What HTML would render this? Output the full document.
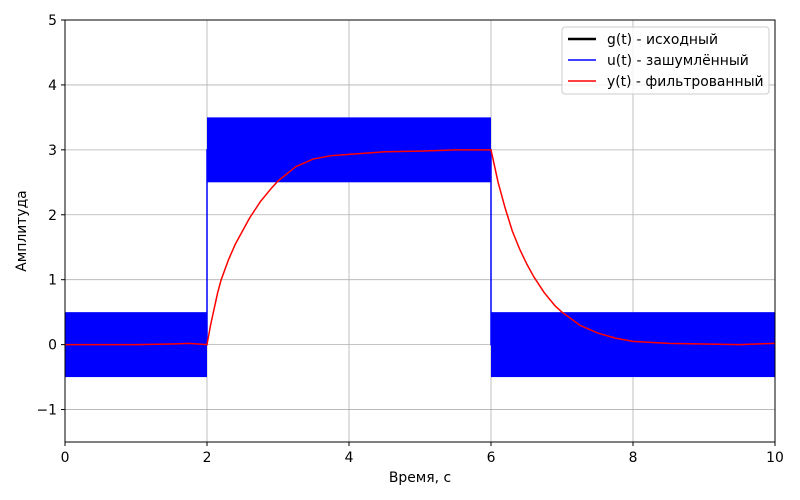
<!DOCTYPE html>
<html><head><meta charset="utf-8">
<style>
body{margin:0;background:#fff;}
svg{display:block;font-family:"DejaVu Sans","Liberation Sans",sans-serif;}
</style></head>
<body>
<svg id="chart" width="800" height="500" viewBox="0 0 800 500">
<rect width="800" height="500" fill="#fff"/>
<g id="grid"></g>
<g id="series"></g>
<rect x="65" y="20" width="710" height="422" fill="none" stroke="#000" stroke-width="1"/>
<g id="axes"></g>
<text x="420" y="482" font-size="13.9" text-anchor="middle">Время, с</text>
<text x="26" y="231" font-size="13.9" text-anchor="middle" transform="rotate(-90 26 231)">Амплитуда</text>
<g>
<rect x="562" y="27" width="207" height="67" rx="3" fill="#fff" fill-opacity="0.8" stroke="#ccc"/>
<line x1="568" y1="39" x2="596" y2="39" stroke="#000" stroke-width="2.5"/>
<text x="607" y="44" font-size="13.9">g(t) - исходный</text>
<line x1="568" y1="60" x2="596" y2="60" stroke="#0000ff" stroke-width="1.5"/>
<text x="607" y="65" font-size="13.9">u(t) - зашумлённый</text>
<line x1="568" y1="81" x2="596" y2="81" stroke="#ff0000" stroke-width="1.5"/>
<text x="607" y="86" font-size="13.9">y(t) - фильтрованный</text>
</g>
</svg>
<script>
const xTicks=[0,2,4,6,8,10];
const yTicks=[-1,0,1,2,3,4,5];
const yTickLabels=["\u22121","0","1","2","3","4","5"];
const segStarts=[0,2,6];
const segEnds=[2,6,10];
const segLevels=[0,3,0];
const noiseAmp=[0.5,0.5,0.5];
const filtT=[0,0.5,1,1.5,1.75,2,2.05,2.1,2.15,2.2,2.3,2.4,2.5,2.6,2.75,2.9,3,3.25,3.5,3.75,4,4.5,5,5.5,6,6.05,6.1,6.2,6.3,6.4,6.5,6.6,6.75,6.9,7,7.25,7.5,7.75,8,8.5,9,9.5,10];
const filtY=[0,0,0,0.01,0.02,0,0.3,0.55,0.8,1.0,1.3,1.55,1.75,1.95,2.2,2.4,2.52,2.74,2.86,2.91,2.93,2.97,2.98,3.0,3.0,2.75,2.5,2.1,1.75,1.48,1.25,1.05,0.8,0.6,0.5,0.3,0.18,0.1,0.05,0.02,0.01,0,0.02];
const NS='http://www.w3.org/2000/svg';
const X=v=>65+v/10*710, Y=v=>442-(v+1.5)/6.5*422;
function mk(t,a,p){const e=document.createElementNS(NS,t);for(const k in a)e.setAttribute(k,a[k]);p.appendChild(e);return e;}
const grid=document.getElementById('grid'),axes=document.getElementById('axes'),ser=document.getElementById('series');
xTicks.forEach(v=>{
 const g=mk('line',{x1:X(v),x2:X(v),y1:20,y2:442,stroke:'#b0b0b0','stroke-width':0.8},grid);
 
 
 const t=mk('line',{x1:X(v),x2:X(v),y1:442,y2:446,stroke:'#000'},axes);
 
 
 const l=mk('text',{x:X(v),y:462,'font-size':13.9,'text-anchor':'middle'},axes);l.textContent=v;
 
 
});
yTicks.forEach((v,i)=>{
 const g=mk('line',{x1:65,x2:775,y1:Y(v),y2:Y(v),stroke:'#b0b0b0','stroke-width':0.8},grid);
 
 
 const t=mk('line',{x1:61,x2:65,y1:Y(v),y2:Y(v),stroke:'#000'},axes);
 
 
 const l=mk('text',{x:57,y:Y(v)+5,'font-size':13.9,'text-anchor':'end'},axes);l.textContent=yTickLabels[i];
 
 
});
segStarts.forEach((s,i)=>{
 const r=mk('rect',{x:X(s),y:Y(segLevels[i]+noiseAmp[i]),width:X(segEnds[i])-X(s),height:Y(segLevels[i]-noiseAmp[i])-Y(segLevels[i]+noiseAmp[i]),fill:'#0000ff'},ser);
 
 
});
let gd='';segStarts.forEach((s,i)=>{gd+=(i?'L':'M')+X(s)+' '+Y(segLevels[i])+'L'+X(segEnds[i])+' '+Y(segLevels[i]);});
const gp=mk('path',{d:gd,fill:'none',stroke:'#0000ff','stroke-width':1.5},ser);


const fp=mk('path',{d:filtT.map((t,i)=>(i?'L':'M')+X(t)+' '+Y(filtY[i])).join(''),fill:'none',stroke:'#ff0000','stroke-width':1.5,'stroke-linejoin':'round'},ser);


</script>
</body></html>
